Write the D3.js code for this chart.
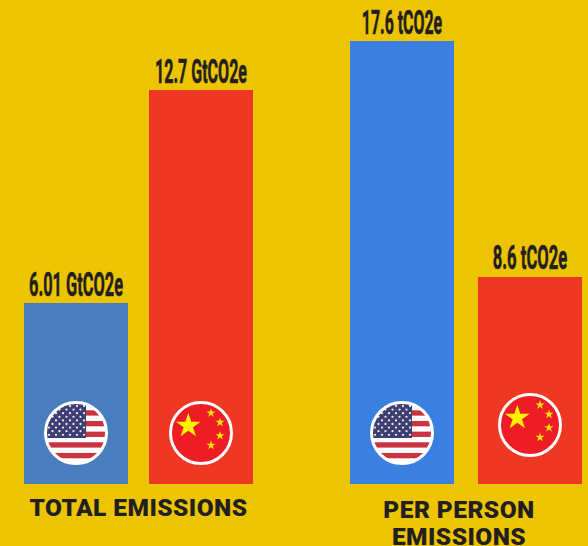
<!DOCTYPE html>
<html>
<head>
<meta charset="utf-8">
<script src="https://cdn.jsdelivr.net/npm/d3@7/dist/d3.min.js"></script>
<style>
  html, body { margin: 0; padding: 0; background: #ECC402; overflow: hidden; }
  svg { display: block; }
</style>
</head>
<body>
<svg id="chart" width="588" height="546"></svg>
<script>
// Emissions: United States against China, in total and per person.
const countries = ["USA", "China"];
const totalValues = [6.01, 12.7];
const perPersonValues = [17.6, 8.6];
const totalLabels = ["6.01 GtCO2e", "12.7 GtCO2e"];
const perPersonLabels = ["17.6 tCO2e", "8.6 tCO2e"];
const groupTitles = [["TOTAL EMISSIONS"], ["PER PERSON", "EMISSIONS"]];

const WIDTH = 588, HEIGHT = 546, BASELINE = 484, BAR_W = 104;
const INK = "#231F20", RED = "#EF3823";
const svg = d3.select("#chart");

svg.append("rect").attr("width", WIDTH).attr("height", HEIGHT).attr("fill", "#ECC402");

// Each panel has its own unit, so each gets its own value scale and band scale.
const panels = [
  {
    values: totalValues, labels: totalLabels, title: groupTitles[0],
    floor: 0.325, y: [303, 90], x: [24, 253], usBlue: "#4A7EBF",
    labelW: [94, 92], titleX: 138.5, titleY: 516, chinaLift: 51
  },
  {
    values: perPersonValues, labels: perPersonLabels, title: groupTitles[1],
    floor: 0.705, y: [41, 277], x: [350, 582], usBlue: "#3B80E0",
    labelW: [80.5, 74.5], titleX: 459, titleY: 518, chinaLift: 59
  }
];

// Five-pointed star path centred on the origin.
function starPath(r) {
  const pts = d3.range(10).map(i => {
    const a = -Math.PI / 2 + i * Math.PI / 5;
    const rad = i % 2 ? r * 0.382 : r;
    return [rad * Math.cos(a), rad * Math.sin(a)];
  });
  return "M" + pts.map(p => p.join(",")).join("L") + "Z";
}

let clipCount = 0;

function drawUsFlag(g) {
  const id = "us-clip-" + clipCount++;
  g.append("clipPath").attr("id", id).append("circle").attr("r", 30.5);
  const inner = g.append("g").attr("clip-path", `url(#${id})`);
  inner.append("rect").attr("x", -32).attr("y", -32).attr("width", 64).attr("height", 64).attr("fill", "#FFFFFF");
  const pitch = 5.33;
  d3.range(6).forEach(i => {
    inner.append("rect")
      .attr("x", -32).attr("width", 64)
      .attr("y", -22.7 + i * 2 * pitch).attr("height", pitch)
      .attr("fill", "#C9323F");
  });
  inner.append("rect").attr("x", -32).attr("y", -32).attr("width", 42).attr("height", 37).attr("fill", "#3D3F72");
  d3.range(9).forEach(row => {
    const n = row % 2 ? 5 : 6;
    d3.range(n).forEach(col => {
      inner.append("circle")
        .attr("cx", -27 + (row % 2 ? 3.5 : 0) + col * 7)
        .attr("cy", -27 + row * 3.6)
        .attr("r", 1.15)
        .attr("fill", "#E4E6F0");
    });
  });
  g.append("circle").attr("r", 30.5).attr("fill", "none").attr("stroke", "#FFFFFF").attr("stroke-width", 3);
}

function drawChinaFlag(g) {
  g.append("circle").attr("r", 30.5).attr("fill", "#EE1C25").attr("stroke", "#FFFFFF").attr("stroke-width", 3);
  g.append("path").attr("d", starPath(13)).attr("transform", "translate(-12.7,-7.2)").attr("fill", "#FFF200");
  [[10, -20], [19, -10.7], [19, 2.7], [10, 12.3]].forEach(([dx, dy]) => {
    g.append("path").attr("d", starPath(4.8)).attr("transform", `translate(${dx},${dy})`).attr("fill", "#FFE500");
  });
}

panels.forEach(p => {
  const xBand = d3.scaleBand().domain(countries).range(p.x).paddingInner((p.x[1] - p.x[0] - 2 * BAR_W) / (p.x[1] - p.x[0] - BAR_W)).paddingOuter(0);
  const yScale = d3.scaleLinear()
    .domain([p.floor, p.values[0]])
    .range([BASELINE, p.y[0]]);

  const g = svg.append("g");

  countries.forEach((country, i) => {
    const v = p.values[i];
    const bx = xBand(country), by = yScale(v), cx = bx + BAR_W / 2;

    g.append("rect")
      .attr("x", bx).attr("y", by)
      .attr("width", xBand.bandwidth()).attr("height", BASELINE - by)
      .attr("fill", country === "USA" ? p.usBlue : RED);

    // Value labels are squeezed horizontally into a tall condensed look.
    const label = g.append("text")
      .attr("text-anchor", "middle")
      .attr("font-family", "'Liberation Sans Narrow', 'Roboto', sans-serif")
      .attr("font-weight", 700)
      .attr("font-size", 33)
      .attr("stroke", INK).attr("stroke-width", 0.6)
      .attr("fill", INK)
      .text(p.labels[i]);
    const squeeze = p.labelW[i] / label.node().getComputedTextLength();
    label.attr("transform", `translate(${cx},${by - 7.5}) scale(${squeeze},1)`);

    const flag = g.append("g")
      .attr("transform", `translate(${cx},${BASELINE - (country === "USA" ? 51 : p.chinaLift)})`);
    if (country === "USA") drawUsFlag(flag); else drawChinaFlag(flag);
  });

  p.title.forEach((line, j) => {
    g.append("text")
      .attr("x", p.titleX).attr("y", p.titleY + j * 27)
      .attr("text-anchor", "middle")
      .attr("font-family", "Roboto, sans-serif")
      .attr("font-weight", 900)
      .attr("font-size", 24.5)
      .attr("letter-spacing", 0.45)
      .attr("fill", INK)
      .text(line);
  });
});
</script>
</body>
</html>
